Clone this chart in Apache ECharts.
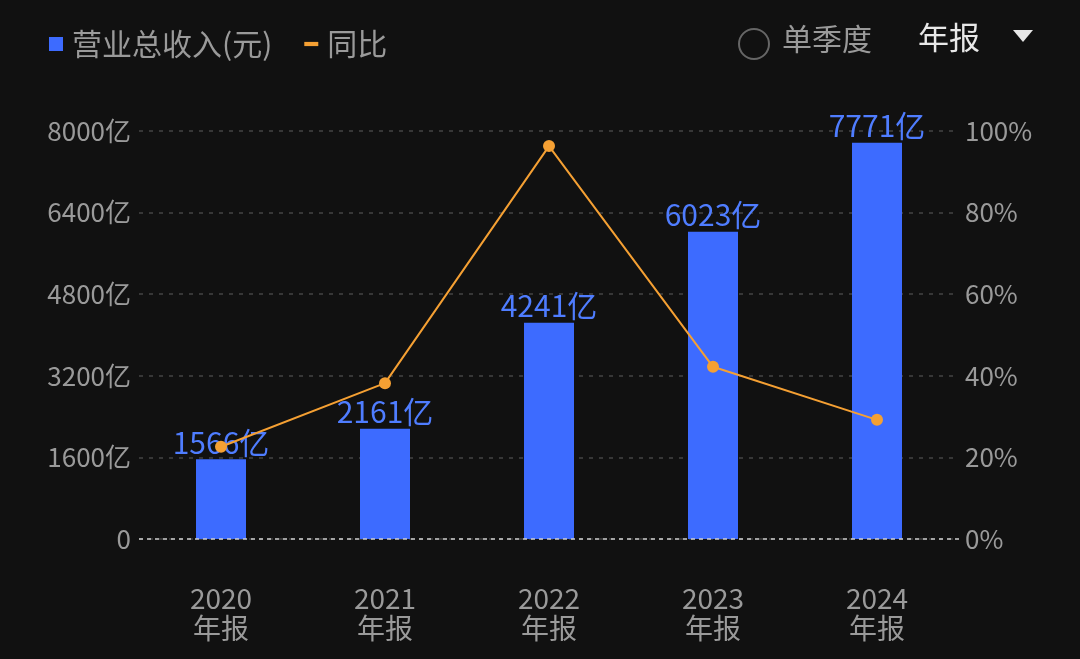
<!DOCTYPE html>
<html><head><meta charset="utf-8">
<script src="https://cdn.jsdelivr.net/npm/echarts@6/dist/echarts.min.js"></script>
<style>html,body{margin:0;background:#111111;}#c{width:1080px;height:659px;}</style>
</head><body><div id="c"></div>
<script>
const categories = ['2020\n年报','2021\n年报','2022\n年报','2023\n年报','2024\n年报'];
const revenue = [1566, 2161, 4241, 6023, 7771];
const yoy = [22.6, 38.2, 96.3, 42.2, 29.2];
const chart = echarts.init(document.getElementById('c'));
const font = '"Noto Sans CJK SC", sans-serif';
chart.setOption({
  backgroundColor: '#111111',
  textStyle: {fontFamily: font},
  legend: {
    left: 44, top: 24, itemGap: 32, itemWidth: 14, itemHeight: 14,
    textStyle: {color: '#9a9a9a', fontSize: 30, fontFamily: font, padding: [0, 0, 0, 4]},
    data: [{name: '营业总收入(元)', icon: 'rect'},
           {name: '同比', icon: 'path://M0,0H10V3H0Z', itemStyle: {color: '#f5a033'}}]
  },
  graphic: [
    {type: 'circle', shape: {cx: 754, cy: 44, r: 15}, style: {fill: 'none', stroke: '#666', lineWidth: 2}},
    {type: 'text', left: 782, top: 24, style: {text: '单季度', fill: '#9a9a9a', fontSize: 30, fontFamily: font}},
    {type: 'text', left: 918, top: 22, style: {text: '年报', fill: '#e8e8e8', fontSize: 31, fontFamily: font}},
    {type: 'polygon', shape: {points: [[1013, 30], [1033, 30], [1023, 42]]}, style: {fill: '#e8e8e8'}}
  ],
  grid: {left: 139, right: 121, top: 131, bottom: 120},
  xAxis: {
    type: 'category', data: categories,
    axisLine: {show: false}, axisTick: {show: false},
    axisLabel: {color: '#9a9a9a', fontSize: 28, lineHeight: 30, margin: 44, fontFamily: font}
  },
  yAxis: [
    {type: 'value', min: 0, max: 8000, interval: 1600,
     axisLabel: {color: '#9a9a9a', fontSize: 26, margin: 8, formatter: v => v === 0 ? '0' : v + '亿'},
     splitLine: {lineStyle: {color: '#444', type: [4, 6], width: 1.5}}},
    {type: 'value', min: 0, max: 100, interval: 20,
     axisLabel: {color: '#9a9a9a', fontSize: 26, margin: 6, formatter: '{value}%'},
     splitLine: {show: false}}
  ],
  series: [
    {name: '营业总收入(元)', type: 'bar', data: revenue, barWidth: 50,
     itemStyle: {color: '#3d6bff'},
     label: {show: true, position: 'top', color: '#4f7dff', fontSize: 30, distance: 2, formatter: p => p.value + '亿'},
     markLine: {silent: true, symbol: 'none', label: {show: false},
       lineStyle: {color: '#cfcfcf', type: [4, 4], width: 1.5}, data: [{yAxis: 0}]}},
    {name: '同比', type: 'line', yAxisIndex: 1, data: yoy,
     symbol: 'circle', symbolSize: 12, z: 5,
     itemStyle: {color: '#f5a033'}, lineStyle: {color: '#f5a033', width: 2}}
  ]
});
</script></body></html>
